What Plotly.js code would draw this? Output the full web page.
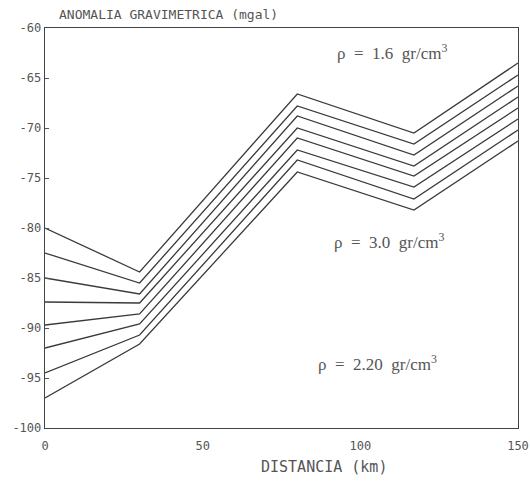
<!DOCTYPE html>
<html>
<head>
<meta charset="utf-8">
<script src="https://cdn.plot.ly/plotly-3.0.1.min.js"></script>
<style>html,body{margin:0;padding:0;background:#fff;}#chart{width:530px;height:484px;}</style>
</head>
<body>
<div id="chart"></div>
<script>
// Distance breakpoints (km)
const distancia = [0, 30, 80, 117, 150];
// Gravity anomaly curves (mgal), top to bottom
const curva1 = [-80.0, -84.4, -66.6, -70.5, -63.5];
const curva2 = [-82.5, -85.5, -67.8, -71.6, -64.7];
const curva3 = [-85.0, -86.6, -68.8, -72.7, -65.8];
const curva4 = [-87.4, -87.5, -70.0, -73.8, -66.9];
const curva5 = [-89.7, -88.6, -71.0, -74.8, -68.0];
const curva6 = [-92.0, -89.6, -72.2, -75.9, -69.1];
const curva7 = [-94.5, -90.7, -73.2, -77.1, -70.2];
const curva8 = [-97.0, -91.6, -74.4, -78.2, -71.3];
const curvas = [curva1, curva2, curva3, curva4, curva5, curva6, curva7, curva8];

const xTicks = [0, 50, 100, 150];
const yTicks = [-60, -65, -70, -75, -80, -85, -90, -95, -100];

const plotterFont = "DejaVu Sans Mono, Liberation Mono, monospace";
const serifFont = "Liberation Serif, DejaVu Serif, serif";
const S = '&nbsp;&nbsp;';

const traces = curvas.map(c => ({
  x: distancia, y: c, type: 'scatter', mode: 'lines',
  line: {color: '#3a3a3a', width: 1.3}, showlegend: false, hoverinfo: 'skip'
}));

const layout = {
  width: 530, height: 484,
  margin: {l: 45, r: 12, t: 28, b: 56},
  paper_bgcolor: '#fff', plot_bgcolor: '#fff',
  showlegend: false,
  xaxis: {
    range: [0, 150], tickvals: xTicks, ticktext: xTicks.map(String),
    showgrid: false, zeroline: false, showline: true, mirror: true,
    linecolor: '#444', linewidth: 1.3, ticks: '', ticklabelstandoff: 6,
    tickfont: {family: plotterFont, size: 12, color: '#555'}
  },
  yaxis: {
    range: [-100, -60], tickvals: yTicks, ticktext: yTicks.map(String),
    showgrid: false, zeroline: false, showline: true, mirror: true,
    linecolor: '#444', linewidth: 1.3, ticks: 'inside', ticklen: 4, tickcolor: '#555',
    tickfont: {family: plotterFont, size: 12, color: '#555'}
  },
  annotations: [
    {xref: 'paper', yref: 'paper', x: 0.025, y: 1.0, yshift: 4, xanchor: 'left', yanchor: 'bottom',
     text: 'ANOMALIA GRAVIMETRICA (mgal)', showarrow: false,
     font: {family: plotterFont, size: 13, color: '#555'}},
    {xref: 'paper', yref: 'paper', x: 0.59, y: 0, yshift: -28, xanchor: 'center', yanchor: 'top',
     text: 'DISTANCIA (km)', showarrow: false,
     font: {family: plotterFont, size: 15, color: '#555'}},
    {xref: 'x', yref: 'y', x: 92, y: -62.4, xanchor: 'left', text: 'ρ' + S + '=' + S + '1.6' + S + 'gr/cm<sup>3</sup>', showarrow: false,
     font: {family: serifFont, size: 17, color: '#555'}},
    {xref: 'x', yref: 'y', x: 91, y: -81.3, xanchor: 'left', text: 'ρ' + S + '=' + S + '3.0' + S + 'gr/cm<sup>3</sup>', showarrow: false,
     font: {family: serifFont, size: 17, color: '#555'}},
    {xref: 'x', yref: 'y', x: 86, y: -93.5, xanchor: 'left', text: 'ρ' + S + '=' + S + '2.20' + S + 'gr/cm<sup>3</sup>', showarrow: false,
     font: {family: serifFont, size: 17, color: '#555'}}
  ]
};

Plotly.newPlot('chart', traces, layout, {staticPlot: true, displayModeBar: false});
</script>
</body>
</html>
